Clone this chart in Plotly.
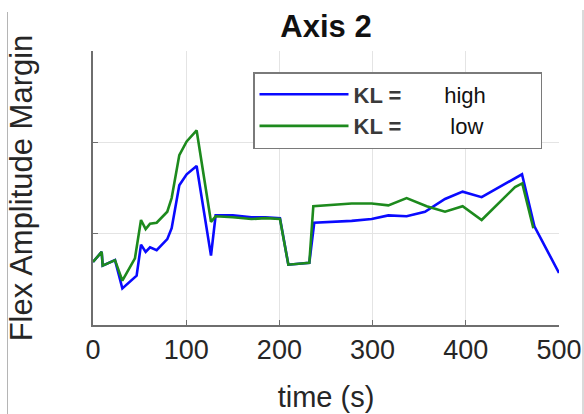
import plotly.graph_objects as go

# ---- data ----
x_high = [0, 9.3, 10.4, 23.6, 31.5, 46.8, 51.5, 56.5, 61.2, 68.3, 79.7, 84.4, 92.6, 100.5, 111.2,
          126.6, 131.6, 150, 170, 185, 200.6, 209.6, 232.1, 237.4, 277.5, 299, 316.9, 336.5,
          356.2, 377.7, 396.6, 417, 460.3, 473.6, 500]
y_high = [0.69, 0.80, 0.65, 0.71, 0.40, 0.54, 0.88, 0.80, 0.85, 0.82, 0.94, 1.06, 1.53, 1.65, 1.74,
          0.76, 1.20, 1.20, 1.18, 1.18, 1.17, 0.66, 0.68, 1.12, 1.14, 1.16, 1.20, 1.19,
          1.24, 1.38, 1.46, 1.40, 1.65, 1.08, 0.57]

x_low = [0, 9.3, 10.4, 23.6, 31.5, 45, 51.5, 56.5, 61.2, 68.3, 79.7, 84.4, 92.6, 100.5, 111.2,
         126.6, 131.6, 150, 170, 185, 200.6, 209.6, 232.1, 236.4, 277.5, 299, 316.9, 336.5,
         358, 377.7, 396.6, 417, 452.8, 460.6, 472.5]
y_low = [0.69, 0.80, 0.65, 0.71, 0.485, 0.73, 1.15, 1.05, 1.11, 1.12, 1.24, 1.39, 1.86, 2.01, 2.13,
         1.13, 1.19, 1.18, 1.16, 1.17, 1.16, 0.66, 0.68, 1.30, 1.33, 1.33, 1.31, 1.39,
         1.30, 1.24, 1.30, 1.15, 1.51, 1.55, 1.06]

x_ticks = [0, 100, 200, 300, 400, 500]
y_ticks = [0, 1, 2, 3]

FONT = "Liberation Sans, Arial, Helvetica, sans-serif"
NB = "\u00a0"

fig = go.Figure()
fig.add_trace(go.Scatter(
    x=x_high, y=y_high, mode="lines",
    name="<b><span style='color:#3a3a3a'>KL =</span></b>" + NB * 7 + "high" + NB * 8,
    line=dict(color="#0a0aff", width=2.6)))
fig.add_trace(go.Scatter(
    x=x_low, y=y_low, mode="lines",
    name="<b><span style='color:#3a3a3a'>KL =</span></b>" + NB * 8 + "low" + NB * 8,
    line=dict(color="#1d8a1d", width=2.6)))

axis_common = dict(
    showgrid=True, gridcolor="#e4e4e4", gridwidth=1,
    showline=True, linecolor="#6e6e6e", linewidth=1.5,
    ticks="inside", ticklen=5, tickcolor="#6e6e6e", tickwidth=1,
    zeroline=False, mirror=False, automargin=False,
)

fig.update_layout(
    width=584, height=414,
    margin=dict(l=93, r=25, t=51, b=89, autoexpand=False),
    paper_bgcolor="white", plot_bgcolor="white",
    font=dict(family=FONT, color="#262626"),
    title=dict(text="<b>Axis 2</b>", x=(93 + 559) / 2 / 584, xanchor="center",
               y=1 - 26 / 414, yanchor="middle", yref="container",
               font=dict(size=31, color="#111111", family=FONT)),
    xaxis=dict(range=[0, 500], tickvals=x_ticks, ticktext=[str(v) for v in x_ticks],
               tickfont=dict(size=27, color="#262626"),
               title=dict(text="time (s)", font=dict(size=29, color="#262626"), standoff=23),
               **axis_common),
    yaxis=dict(range=[0, 3], tickvals=y_ticks, showticklabels=False,
               title=dict(text="Flex Amplitude Margin", font=dict(size=31, color="#262626"), standoff=49),
               **axis_common),
    legend=dict(x=(253 - 93) / 466, y=(325 - 72) / 274, xanchor="left", yanchor="top",
                bgcolor="white", bordercolor="#7a7a7a", borderwidth=1.5,
                font=dict(size=22, color="#111111", family=FONT),
                itemwidth=89, tracegroupgap=0),
    showlegend=True,
)

# thin frame lines that appear at the left and right edges of the reference image
fig.add_shape(type="line", xref="paper", yref="paper",
              x0=(7.5 - 93) / 466, x1=(7.5 - 93) / 466, y0=(325 - 414) / 274, y1=(325 - 12) / 274,
              line=dict(color="#b5b5b5", width=1))
fig.add_shape(type="line", xref="paper", yref="paper",
              x0=(583 - 93) / 466, x1=(583 - 93) / 466, y0=(325 - 414) / 274, y1=(325 - 10) / 274,
              line=dict(color="#b5b5b5", width=1))

fig.write_html("out.html")
